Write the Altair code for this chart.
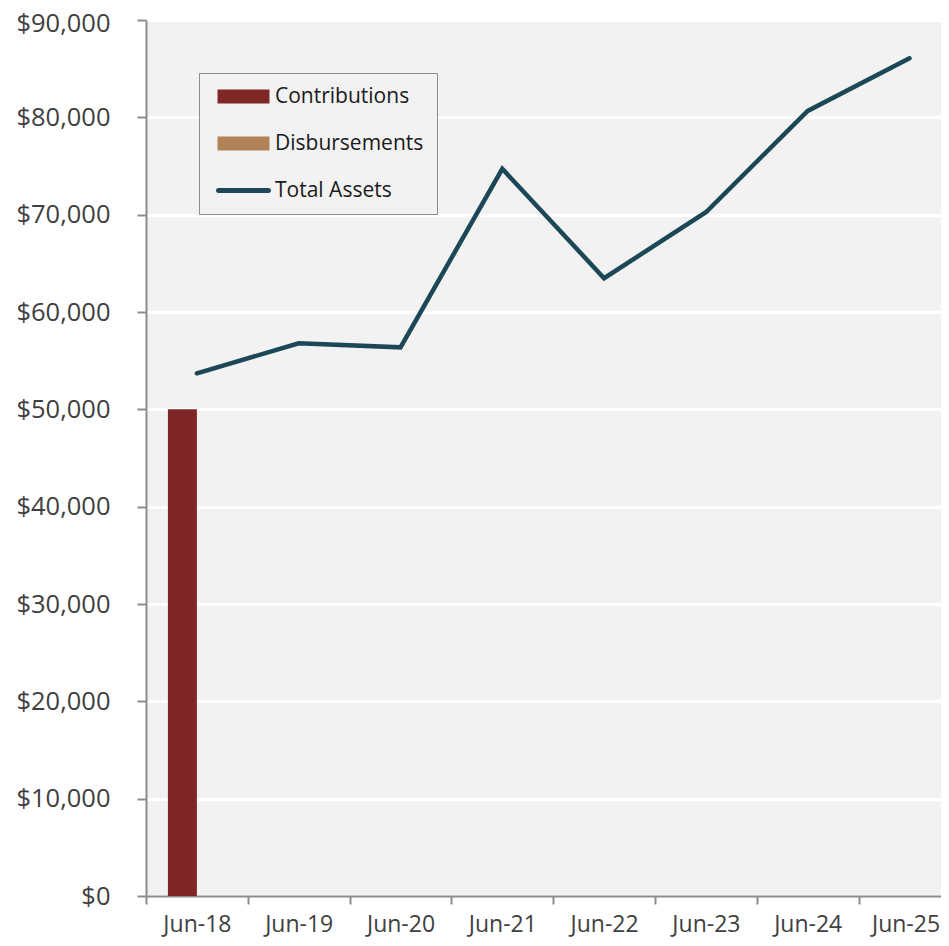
import altair as alt
import pandas as pd

periods = ["Jun-18", "Jun-19", "Jun-20", "Jun-21", "Jun-22", "Jun-23", "Jun-24", "Jun-25"]
contributions = [50000, 0, 0, 0, 0, 0, 0, 0]
disbursements = [0, 0, 0, 0, 0, 0, 0, 0]
total_assets = [53700, 56780, 56370, 74710, 63470, 70250, 80660, 86070]

series_names = ["Contributions", "Disbursements", "Total Assets"]
series_colors = ["#7f2627", "#b08255", "#1b4756"]

rows = []
for i, p in enumerate(periods):
    rows.append({"period": p, "series": "Contributions", "value": contributions[i]})
    rows.append({"period": p, "series": "Disbursements", "value": disbursements[i]})
    rows.append({"period": p, "series": "Total Assets", "value": total_assets[i]})
df = pd.DataFrame(rows)

FONT = "Open Sans"
W = 795
H = 876
STEP = 101.8

RECT_PATH = "M-3.714,-1H3.714V1H-3.714Z"
LINE_PATH = "M-3.57,-0.357H3.57A0.357,0.357 0 0 1 3.57,0.357H-3.57A0.357,0.357 0 0 1 -3.57,-0.357Z"

x_scale = alt.Scale(domain=periods, range=[0, STEP * len(periods)], paddingInner=0, paddingOuter=0)
y_scale = alt.Scale(domain=[0, 90000], nice=False)
color_scale = alt.Scale(domain=series_names, range=series_colors)
shape_scale = alt.Scale(domain=series_names, range=[RECT_PATH, RECT_PATH, LINE_PATH])

x_axis = alt.Axis(
    title=None, grid=False, tickBand="extent", labelFont=FONT, labelFontSize=23,
    labelColor="#404040", domainColor="#8c8c8c", domainWidth=2, tickColor="#8c8c8c",
    tickWidth=2, tickSize=8, labelPadding=9, labelAngle=0,
    labelOffset={"condition": {"test": "datum.label === 'Jun-25'", "value": -4}, "value": 0},
)
y_axis = alt.Axis(
    title=None, format="$,.0f", values=list(range(0, 90001, 10000)), grid=True,
    gridColor="#ffffff", gridWidth=3, labelFont=FONT, labelFontSize=25.5, labelColor="#404040",
    domainColor="#8c8c8c", domainWidth=2, tickColor="#8c8c8c", tickWidth=2, tickSize=9,
    labelPadding=27,
    labelOffset={"condition": {"test": "datum.value === 90000", "value": 3}, "value": 0},
)

legend = alt.Legend(
    title=None, orient="none", legendX=53, legendY=53, direction="vertical",
    labelFont=FONT, labelFontSize=21, labelColor="#1a1a1a", labelOffset=21,
    strokeColor="#8c8c8c", fillColor="#f2f2f2", padding=13, rowPadding=25,
    symbolSize=196, symbolOffset=21, symbolStrokeWidth=0, symbolOpacity=1,
)

base = alt.Chart(df)

bars = base.transform_filter(
    alt.FieldOneOfPredicate(field="series", oneOf=["Contributions", "Disbursements"])
).mark_bar().encode(
    x=alt.X("period:N", scale=x_scale, axis=x_axis, sort=periods),
    xOffset=alt.XOffset("series:N", scale=alt.Scale(domain=["Contributions", "Disbursements"], paddingInner=0, paddingOuter=0.755)),
    y=alt.Y("value:Q", scale=y_scale, axis=y_axis),
    color=alt.Color("series:N", scale=color_scale, legend=None),
)

line = base.transform_filter(
    alt.FieldEqualPredicate(field="series", equal="Total Assets")
).mark_line(strokeWidth=4.5, strokeCap="round", strokeJoin="miter").encode(
    x=alt.X("period:N", scale=x_scale, axis=x_axis, sort=periods),
    y=alt.Y("value:Q", scale=y_scale, axis=y_axis),
    color=alt.Color("series:N", scale=color_scale, legend=None),
)

legend_layer = base.transform_filter("false").mark_point(filled=True, opacity=1).encode(
    x=alt.X("period:N", scale=x_scale, axis=x_axis, sort=periods),
    y=alt.Y("value:Q", scale=y_scale, axis=y_axis),
    color=alt.Color("series:N", scale=color_scale, legend=legend),
    shape=alt.Shape("series:N", scale=shape_scale, legend=legend),
)

chart = alt.layer(bars, line, legend_layer).resolve_legend(
    color="independent", shape="independent"
).properties(
    width=W, height=H,
    autosize=alt.AutoSizeParams(type="none"),
    padding={"left": 138, "top": 12, "right": 0, "bottom": 42},
    background="#ffffff",
).configure_view(fill="#f2f2f2", stroke=None)

chart.save("out.html", embed_options={"renderer": "svg", "actions": False})
